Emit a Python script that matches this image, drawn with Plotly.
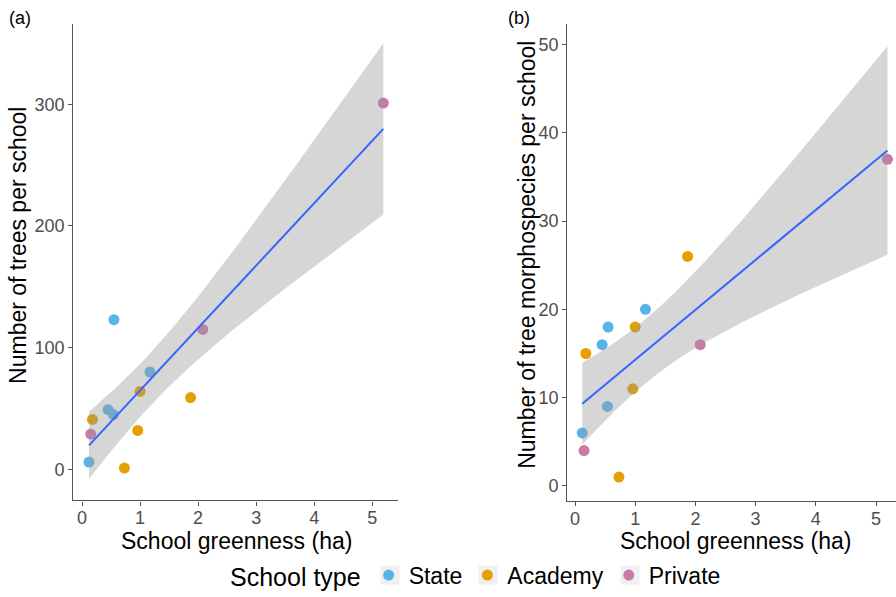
import numpy as np
import plotly.graph_objects as go

# ---- data ----
school_type = ["State", "State", "State", "State", "State",
               "Academy", "Academy", "Academy", "Academy", "Academy",
               "Private", "Private", "Private"]
greenness_ha = [0.55, 1.17, 0.45, 0.54, 0.12,
                1.00, 1.87, 0.18, 0.96, 0.73,
                2.08, 0.15, 5.19]
n_trees = [123, 80, 49, 45, 6,
           64, 59, 41, 32, 1,
           115, 29, 301]
n_morphospecies = [18, 20, 16, 9, 6,
                   18, 26, 15, 11, 1,
                   16, 4, 37]
type_order = ["State", "Academy", "Private"]
type_colors = {"State": "#56B4E9", "Academy": "#E69F00", "Private": "#CC79A7"}

x_ticks = [0, 1, 2, 3, 4, 5]
y_ticks_a = [0, 100, 200, 300]
y_ticks_b = [0, 10, 20, 30, 40, 50]


def smooth(x, y, n=80, tcrit=2.201):
    x = np.asarray(x, float)
    y = np.asarray(y, float)
    b1, b0 = np.polyfit(x, y, 1)
    resid = y - (b0 + b1 * x)
    s = np.sqrt(np.sum(resid ** 2) / (len(x) - 2))
    xs = np.linspace(x.min(), x.max(), n)
    sxx = np.sum((x - x.mean()) ** 2)
    se = s * np.sqrt(1 / len(x) + (xs - x.mean()) ** 2 / sxx)
    fit = b0 + b1 * xs
    return xs, fit, fit - tcrit * se, fit + tcrit * se


fig = go.Figure()

for panel, yvals, xa, ya in [("a", n_trees, "x", "y"), ("b", n_morphospecies, "x2", "y2")]:
    for t in type_order:
        idx = [i for i, s in enumerate(school_type) if s == t]
        fig.add_trace(go.Scatter(
            x=[greenness_ha[i] for i in idx], y=[yvals[i] for i in idx],
            mode="markers", name=t, legendgroup=t, showlegend=(panel == "a"),
            marker=dict(color=type_colors[t], size=11, line=dict(width=0)),
            xaxis=xa, yaxis=ya))
    xs, fit, lo, hi = smooth(greenness_ha, yvals)
    fig.add_trace(go.Scatter(
        x=np.concatenate([xs, xs[::-1]]), y=np.concatenate([hi, lo[::-1]]),
        fill="toself", fillcolor="rgba(153,153,153,0.4)", line=dict(width=0),
        mode="lines", showlegend=False, hoverinfo="skip", xaxis=xa, yaxis=ya))
    fig.add_trace(go.Scatter(
        x=xs, y=fit, mode="lines", line=dict(color="#3366FF", width=2),
        showlegend=False, hoverinfo="skip", xaxis=xa, yaxis=ya))

W, H = 896, 597


def py(p):
    return 1 - p / H


axis_common = dict(showline=True, linecolor="#555555", linewidth=1.3, ticks="outside",
                   ticklen=4, tickcolor="#555555", tickwidth=1.2, showgrid=False,
                   zeroline=False, tickfont=dict(family="Liberation Sans", size=18, color="#4D4D4D"))

fig.update_layout(
    width=W, height=H, margin=dict(l=0, r=0, t=0, b=0),
    plot_bgcolor="white", paper_bgcolor="white",
    font=dict(family="Liberation Sans", color="black"),
    xaxis=dict(domain=[73.3 / W, 398 / W], range=[-0.15, 5.443], tickvals=x_ticks, anchor="y",
               ticklabelstandoff=-3, **axis_common),
    yaxis=dict(domain=[py(504.7), py(24)], range=[-25.6, 366.2], tickvals=y_ticks_a, anchor="x", **axis_common),
    xaxis2=dict(domain=[567.3 / W, 1.0], range=[-0.128, 5.332], tickvals=x_ticks, anchor="y2",
                ticklabelstandoff=-3, **axis_common),
    yaxis2=dict(domain=[py(505), py(24)], range=[-1.69, 52.36], tickvals=y_ticks_b, anchor="x2", **axis_common),
    legend=dict(orientation="h", x=228 / W, xanchor="left", y=py(580), yanchor="middle",
                title=dict(text="School type", font=dict(size=25)),
                font=dict(size=23), bgcolor="rgba(0,0,0,0)"),
    showlegend=True,
)

# light grey key backgrounds behind legend symbols
for cx in [390, 488, 630]:
    fig.add_shape(type="rect", xref="paper", yref="paper", layer="below",
                  x0=(cx - 9.5) / W, x1=(cx + 9.5) / W, y0=py(589.5), y1=py(570.5),
                  fillcolor="#F0F0F0", line=dict(width=0))

ann = [
    dict(text="School greenness (ha)", x=236 / W, y=py(545.5), font=dict(size=23)),
    dict(text="School greenness (ha)", x=735 / W, y=py(545.5), font=dict(size=23)),
    dict(text="Number of trees per school", x=18 / W, y=py(248), textangle=-90, font=dict(size=23)),
    dict(text="Number of tree morphospecies per school", x=527 / W, y=py(257), textangle=-90, font=dict(size=23)),
    dict(text="(a)", x=20 / W, y=py(18), font=dict(size=18)),
    dict(text="(b)", x=519 / W, y=py(18), font=dict(size=18)),
]
for a in ann:
    fig.add_annotation(xref="paper", yref="paper", showarrow=False, xanchor="center", yanchor="middle", **a)

fig.write_html("out.html")
